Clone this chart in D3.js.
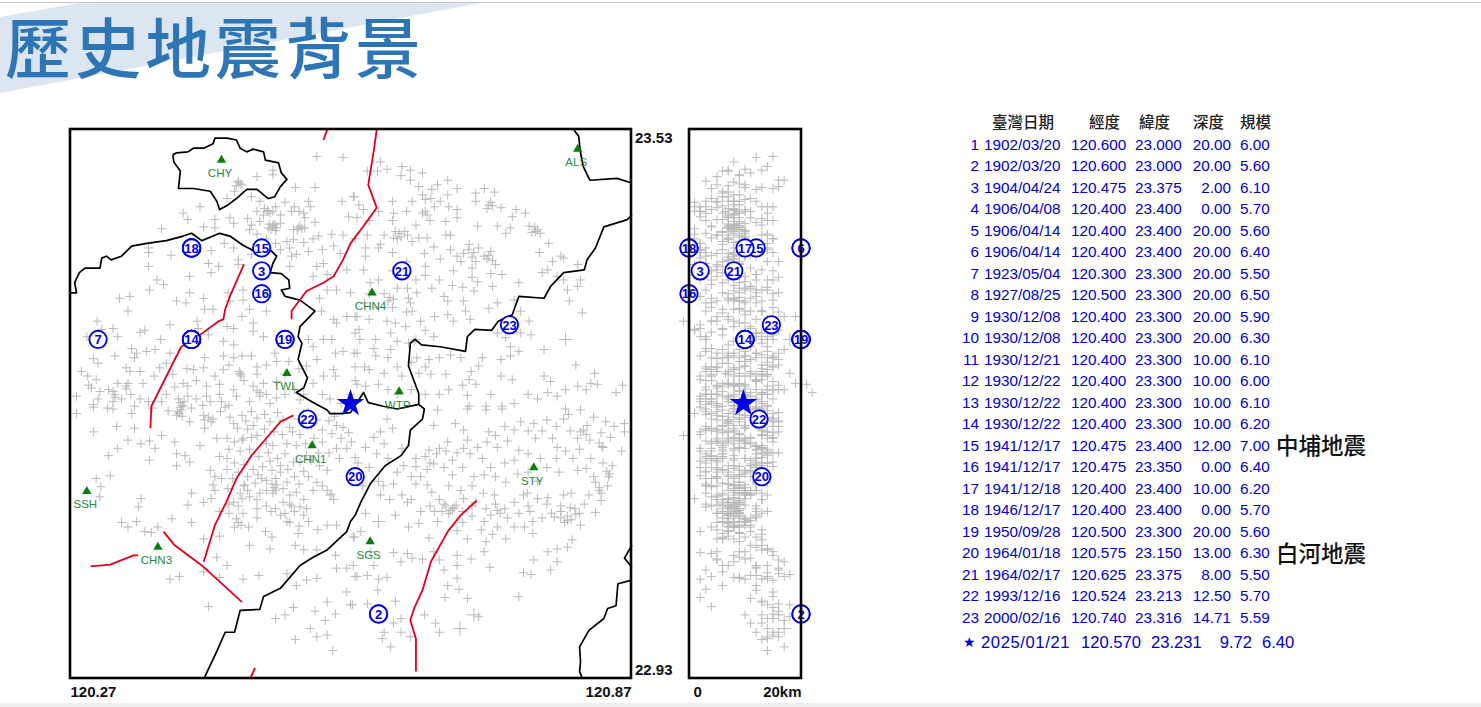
<!DOCTYPE html>
<html lang="zh-Hant">
<head>
<meta charset="utf-8">
<title>歷史地震背景</title>
<script src="https://cdn.jsdelivr.net/npm/d3@7"></script>
<style>
html,body{margin:0;padding:0;background:#fff;overflow:hidden}
svg{display:block}
text{font-family:"Liberation Sans",Arial,sans-serif}
.cjk{font-family:"Noto Sans CJK TC","Noto Sans CJK SC",sans-serif}
</style>
</head>
<body>
<svg id="chart" width="1481" height="707"></svg>
<script>
// ---- data: longitude = 120 + L/1000, latitude = 23 + M/1000, depth in km ----
const eventIds   = d3.range(1, 24);
const eventDates = ["1902/03/20","1902/03/20","1904/04/24","1906/04/08","1906/04/14","1906/04/14","1923/05/04","1927/08/25","1930/12/08","1930/12/08","1930/12/21","1930/12/22","1930/12/22","1930/12/22","1941/12/17","1941/12/17","1941/12/18","1946/12/17","1950/09/28","1964/01/18","1964/02/17","1993/12/16","2000/02/16"];
const eventLon   = [120.600,120.600,120.475,120.400,120.400,120.400,120.300,120.500,120.400,120.400,120.400,120.400,120.400,120.400,120.475,120.475,120.400,120.400,120.500,120.575,120.625,120.524,120.740];
const eventLat   = [23.000,23.000,23.375,23.400,23.400,23.400,23.300,23.300,23.300,23.300,23.300,23.300,23.300,23.300,23.400,23.350,23.400,23.400,23.300,23.150,23.375,23.213,23.316];
const eventDepth = [20,20,2,0,20,20,20,20,20,20,10,10,10,10,12,0,10,0,20,13,8,12.5,14.71];
const eventMag   = [6.00,5.60,6.10,5.70,5.60,6.40,5.50,6.50,5.90,6.30,6.10,6.00,6.10,6.20,7.00,6.40,6.20,5.70,5.60,6.30,5.50,5.70,5.59];
const mainShock  = {date:"2025/01/21", lon:120.570, lat:23.231, depth:9.72, mag:6.40};
const annotations = [{row:14, label:"中埔地震"},{row:19, label:"白河地震"}];
const tableHeads = [{t:"臺灣日期",x:992},{t:"經度",x:1089},{t:"緯度",x:1139},{t:"深度",x:1193},{t:"規模",x:1240}];
const stationNames = ["CHY","ALS","TWL","CHN4","WTP","CHN1","STY","SSH","CHN3","SGS"];
const stationL = [432,813,502,593,622,529,766,288,364,591];
const stationM = [496,508,263,351,243,184,160,134,73,79];

const borderChiayiCity = [[380,502],[384,504],[396,505],[402,509],[413,509],[423,514],[425,520],[438,520],[448,518],[452,509],[459,505],[466,508],[477,505],[479,496],[493,493],[496,482],[502,475],[495,467],[489,456],[482,454],[470,464],[459,464],[448,454],[439,447],[430,442],[427,451],[420,462],[402,465],[386,465],[388,484],[381,494],[380,502]];
const borderChiayiTainan = [[270,351],[277,351],[275,362],[280,373],[286,378],[302,378],[304,389],[309,391],[314,387],[325,391],[336,402],[352,405],[373,408],[391,413],[400,416],[411,408],[423,413],[430,416],[441,413],[455,403],[468,396],[484,398],[491,391],[487,383],[484,373],[496,372],[504,365],[505,356],[496,354],[500,347],[516,343],[532,331],[516,314],[514,303],[518,296],[514,278],[524,258],[520,247],[512,242],[530,231],[545,223],[548,219],[559,219],[570,220],[584,242],[589,231],[605,227],[620,224],[643,229],[649,224],[647,213],[634,201],[632,184],[624,173],[607,162],[591,142],[581,122],[575,108],[570,101],[566,90],[545,70],[530,62],[516,53],[495,28],[477,19],[473,5],[452,4],[446,-20],[436,-20],[427,-41],[414,-69]];
const borderEast = [[643,229],[643,241],[632,271],[634,296],[639,300],[646,294],[666,292],[693,287],[695,303],[703,311],[721,310],[728,320],[743,327],[750,347],[777,345],[784,358],[798,373],[820,376],[823,387],[832,400],[841,423],[866,431],[871,436]];
const borderAlishan = [[809,529],[814,522],[816,504],[819,489],[826,474],[855,476],[871,471]];
const borderNotch = [[871,75],[868,70],[863,61],[871,51]];
const borderSouthEast = [[871,37],[856,33],[854,9],[845,6],[841,-5],[825,-18],[815,-36],[816,-52],[815,-63],[818,-70]];
const borders = [borderChiayiCity,borderChiayiTainan,borderEast,borderAlishan,borderNotch,borderSouthEast];

const faultA = [[545,529],[541,518]];
const faultB = [[598,529],[595,507],[589,469],[598,444],[584,424],[570,405],[562,387],[552,369],[541,362],[523,353],[507,331],[507,322]];
const faultC = [[456,382],[441,347],[436,333],[434,322],[429,320],[409,305],[389,292],[380,274],[357,227],[356,203]];
const faultD = [[509,217],[495,210],[480,192],[464,173],[448,148],[437,122],[425,97],[413,57]];
const faultE = [[370,90],[382,75],[411,53],[454,13]];
const faultF = [[292,52],[313,54],[338,64],[343,64]];
const faultG = [[468,-59],[463,-70]];
const faultH = [[705,124],[688,108],[674,90],[656,57],[647,26],[638,6],[634,-7],[640,-27],[640,-50],[640,-63]];
const faults = [faultA,faultB,faultC,faultD,faultE,faultF,faultG,faultH];

// background seismicity: [L, M, depth km, optional magnitude]
const quakesNW = [[534,500,15],[562,499,12],[487,485,7],[487,480,9],[470,478,5],[450,473,3],[454,469,5],[446,462,6],[438,454,4],[511,466,10],[532,466,13],[464,456,7],[473,451,8],[482,440,9],[477,436,7],[487,440,10],[495,436,8],[507,440,11],[525,451,12],[527,445,13],[561,451,9],[573,456,6],[579,447,8],[568,434,7],[577,433,9],[409,445,2],[391,438,3],[396,431,5],[368,421,1],[425,431,6],[441,433,8],[445,427,9],[425,422,7],[413,423,4],[464,425,8],[473,429,9],[462,420,7.5],[487,425,8.5],[482,422,9],[491,422,8],[495,427,10],[521,433,11],[532,428,12],[514,422,7],[509,420,9],[521,422,8],[536,413,10],[562,414,14],[502,407,6],[505,400,9],[509,409,7],[520,406,8],[525,396,10],[552,402,12],[559,394,5],[421,397,2],[354,400,1],[354,395,3],[378,392,4],[354,380,2],[418,383,3],[429,380,5],[421,373,6],[450,387,7],[450,382,9],[464,393,8],[507,391,10],[512,393,11],[505,380,6],[534,380,8],[541,383,9],[530,369,10],[545,371,12],[566,376,13],[363,365,2],[370,360,4],[355,354,3],[398,369,5],[334,347,2],[323,345,4],[332,331,3],[398,351,6],[413,345,7],[384,342,5],[394,340,4],[423,333,8],[414,333,6],[439,351,9],[455,354,10],[455,343,7],[441,342,8],[545,354,12],[555,354,14],[570,351,16],[537,345,11],[539,331,13],[462,333,9],[480,331,10],[454,325,7],[377,316,2],[406,320,4],[407,312,6],[552,322,12],[555,318,15],[566,325,17],[577,325,19],[575,307,15],[299,320,-1],[304,311,1],[316,312,2],[321,303,3],[288,303,2],[345,308,4],[350,310,1],[367,300,3],[418,305,6],[434,298,8],[445,294,7],[466,318,9],[466,309,10],[477,303,12],[438,314,8],[445,312,11],[336,290,4],[341,285,5],[352,287,3],[361,289,6],[339,280,7],[318,282,2],[295,279,5],[300,274,6],[377,285,8],[373,274,7],[366,269,9],[525,300,13],[541,300,15],[550,300,11],[530,292,14],[554,285,12],[562,287,10],[577,285,16],[534,278,11],[434,282,7],[445,280,9],[454,282,8],[464,282,10],[434,267,8],[489,285,12],[491,276,10],[504,276,9],[414,280,6],[413,269,5],[402,267,4],[282,265,3],[289,260,4],[298,256,2],[293,247,5],[302,243,6],[311,245,3],[321,252,7],[330,269,8],[334,265,5],[330,249,9],[348,252,6],[552,267,14],[541,260,11],[554,260,13],[523,271,10],[452,262,7],[430,251,8],[416,249,6],[391,252,9],[396,249,5],[466,249,10],[473,242,11],[477,252,7],[491,254,12],[530,252,9],[277,238,2],[295,229,3],[318,240,5],[316,232,4],[339,227,6],[354,232,7],[388,231,8],[391,227,9],[373,240,10],[396,238,11],[416,238,6],[430,240,8],[448,238,7],[462,232,9],[491,236,10],[516,234,12],
[487,423,9],[489,426,8],[485,420,9.5],[483,426,7],[490,419,10],[516,424,8],[513,420,9],[518,421,7.5],[481,441,8],[484,438,9],[478,443,8],[450,472,8],[452,470,9],[448,468,7],[452,263,6.5],[453,260,8],[451,265,7],[390,228,8],[392,232,9],[388,226,10],[386,235,7],[473,238,8],[470,244,9],[330,246,10],[332,252,8],[318,237,7],[316,243,9]];
const quakesNE = [[602,494,8],[609,486,10],[588,484,6],[599,484,7],[625,489,14],[634,485,13],[647,482,11],[624,479,9],[634,474,17],[643,467,16],[647,458,8],[657,464,12],[663,469,10],[674,474,16],[684,465,15],[674,458,9],[656,454,11],[574,456,6],[584,442,4],[615,451,7],[636,451,5],[650,453,10],[666,451,8],[616,438,6],[647,438,9],[684,442,8],[684,433,7],[672,429,8],[704,460,6],[713,465,4],[724,461,7],[704,451,3],[718,447,9],[731,444,5],[747,442,10],[757,438,8],[743,434,2],[706,424,9],[727,424,7],[741,422,8],[736,416,10],[761,424,4],[768,418,6],[773,416,3],[588,414,5],[606,414,7],[618,418,8],[631,414,9],[643,411,10],[652,411,7],[616,411,4],[602,404,6],[586,400,3],[586,391,8],[636,407,9],[649,394,11],[659,401,12],[666,388,8],[677,398,10],[672,414,5],[677,414,13],[697,404,9],[707,400,8],[691,394,7],[684,391,10],[688,385,6],[713,391,12],[704,385,9],[725,382,5],[700,378,11],[782,405,14],[772,395,15],[786,385,16],[795,391,3],[798,389,2],[813,382,1],[775,373,7],[781,376,5],[791,369,8],[798,365,12],[816,365,14],[813,358,11],[802,354,13],[804,342,9],[818,329,6],[584,376,8],[591,362,6],[620,356,9],[631,356,10],[641,351,12],[640,365,7],[657,356,11],[632,345,8],[636,331,13],[634,340,10],[670,347,12],[674,342,9],[679,359,8],[690,357,14],[706,363,10],[722,358,11],[702,353,8],[732,371,12],[750,362,9],[691,342,13],[674,327,10],[693,331,11],[698,322,14],[727,340,12],[718,334,9],[745,343,15],[752,331,13],[761,320,14],[763,305,15],[752,307,12],[736,302,10],[727,307,13],[741,292,11],[750,287,14],[741,282,15],[777,289,17],[800,300,18,4.6],[811,272,16],[575,325,5],[590,322,7],[609,320,8],[618,318,10],[629,314,11],[579,311,6],[597,300,9],[613,307,12],[620,298,10],[632,296,13],[574,285,7],[597,282,10],[613,289,9],[590,267,8],[606,263,11],[625,260,9],[577,251,7],[600,251,10],[586,249,8],[659,303,14],[677,283,13],[688,280,15],[638,298,10],[641,280,12],[654,278,11],[643,263,9],[656,262,13],[672,262,12],[711,280,14],[707,271,10],[699,265,11],[697,256,13],[704,251,9],[731,260,14],[743,256,12],[731,278,16],[777,260,10],[784,254,15],[781,242,13],[831,263,18],[827,252,19],[834,251,21],[813,249,14],[822,245,17],[861,250,16],[854,242,22],[695,239,10],[697,227,12],[715,227,8],[732,227,14],[791,238,11],
[622,416,8],[624,412,9],[620,410,7],[628,418,10],[718,392,9],[716,388,8],[720,396,10],[722,386,7],[650,440,6.5],[652,436,8],[720,450,5],[722,446,6],[716,443,7],[767,423,7],[770,420,8],[764,417,6],[612,346,9],[616,344,8],[610,342,10],[606,350,7],[700,390,7],[702,395,8],[696,398,6]];
const quakesSW = [[277,219,1],[295,226,2],[316,224,3],[336,219,4],[389,223,6],[384,217,5],[398,210,7],[414,203,8],[423,213,9],[441,215,10],[454,217,11],[464,221,8],[295,199,2],[320,205,3],[339,203,4],[368,195,-1],[332,190,5],[346,186,6],[355,189,3],[361,181,4],[382,188,7],[409,184,6],[321,181,2],[311,173,4],[355,168,5],[384,175,6],[393,173,8],[384,162,7],[398,166,5],[413,217,10],[427,192,9],[438,192,10],[455,192,7],[464,193,11],[430,172,6],[438,170,8],[454,190,9],[480,186,10],[487,184,12],[502,186,8],[420,157,6],[425,150,7],[423,141,8],[439,137,9],[425,135,7],[457,141,10],[471,152,9],[475,148,8],[486,157,11],[495,155,10],[491,141,9],[498,137,8],[509,166,12],[512,184,13],[523,173,14],[537,162,11],[555,206,12],[562,204,10],[550,197,9],[555,181,8],[566,181,13],[545,157,10],[550,131,11],[534,144,9],[512,133,8],[516,117,7],[498,122,9],[523,115,8],[487,132,10],[473,132,6],[400,132,3],[396,119,5],[413,122,6],[421,126,7],[445,122,8],[454,126,9],[470,115,6],[298,148,3],[313,151,2],[303,139,4],[302,128,5],[346,126,1],[343,117,3],[325,100,5],[332,95,7],[341,101,6],[379,104,7],[400,100,8],[350,90,2],[357,89,9],[364,95,4],[448,104,10],[446,95,9],[461,95,8],[462,75,13],[479,90,11],[486,84,12],[484,71,14],[502,101,7],[514,88,9],[525,101,10],[413,82,5],[430,85,7],[427,62,9],[438,53,6],[377,38,2],[387,41,4],[413,46,6],[430,40,8],[455,38,10],[472,42,12],[511,75,11],[520,70,13],[534,70,14],[554,64,15],[502,44,16],[512,31,12],[534,39,14],[523,37,15],[418,8,4],[490,-5,14],[500,-1,13],[509,7,15],[532,3,16],[545,13,13],[554,0,15],[543,-7,17],[527,-16,14],[534,-25,16],[545,-23,15],[511,-28,13],[551,-40,14],[555,50,16],[566,50,12],[573,53,14],[577,41,17],[566,24,15],[570,10,18],[545,97,8],[555,97,11],[573,84,10],
[418,215,8],[421,210,9],[414,212,7],[385,221,5],[387,219,7],[390,216,6],[456,140,9],[460,135,8],[452,132,10],[490,135,8],[488,138,9],[486,142,7],[548,130,8],[545,135,10],[552,125,6],[505,120,8],[507,118,7],[450,100,8],[453,97,9]];
const quakesSE = [[663,223,12],[695,224,9],[715,223,11],[732,224,8],[659,206,10],[682,208,7],[691,201,13],[718,199,8],[745,201,6],[738,189,9],[766,208,12],[768,192,14],[786,192,11],[791,182,9],[798,213,15],[816,223,13],[823,206,10],[813,192,8],[843,210,16],[863,208,12],[863,199,14],[848,193,15],[609,213,9],[615,203,10],[602,199,7],[595,193,8],[586,182,6],[606,186,11],[625,181,9],[654,179,12],[674,188,10],[665,181,13],[659,164,11],[627,162,8],[640,161,9],[695,190,7],[691,181,10],[679,168,8],[711,170,12],[727,182,9],[750,179,8],[745,168,11],[773,170,10],[713,152,9],[679,152,7],[702,150,11],[725,150,8],[736,144,9],[749,153,10],[793,155,7],[813,157,9],[822,159,8],[832,144,12],[836,135,10],[838,124,9],[847,153,14],[850,162,11],[840,182,13],[827,170,10],[616,142,7],[645,150,9],[652,141,8],[657,133,10],[602,130,11],[631,122,9],[586,110,8],[618,108,7],[600,101,10,4.6],[679,115,9],[668,112,8],[663,101,10],[684,91,7],[695,82,8],[691,126,9],[704,122,7],[724,130,10],[715,115,8],[727,113,9],[745,122,7],[759,132,11],[770,126,10],[781,127,8],[713,101,9],[727,95,8],[736,82,6],[715,79,9],[713,68,5],[765,101,7],[756,95,9],[765,88,6],[798,130,10],[806,132,9],[788,106,8],[802,102,11],[816,97,10],[807,81,13],[802,73,12],[791,71,14],[781,68,15],[791,57,17],[784,48,16],[832,111,9],[632,95,8],[643,99,7],[654,83,6],[659,68,9],[616,67,2],[631,66,4],[636,61,11],[647,60,5],[624,57,8],[574,84,6],[581,90,7],[591,68,10],[595,53,12],[575,41,14],[588,42,11],[600,38,13],[609,40,9],[684,64,8],[699,60,10],[665,59,5],[670,48,3],[684,53,7],[684,39,9],[674,31,6],[686,27,3],[671,18,2],[695,17,11],[719,51,12],[766,59,16],[755,45,14],[763,43,18],[750,19,15],[588,11,16],[618,14,13],[599,26,12],[624,-5,15],[616,-10,13],[606,-20,16],[604,-27,14],[613,-36,17],[624,-20,12],[634,-25,14],[649,-1,10],[661,-10,11],[665,-20,15],[687,-16,17,4.8],[702,-1,16,4.6],[707,-3,18],[572,10,14],
[681,116,8],[677,113,9],[683,119,10],[675,110,7],[672,118,8],[802,107,9],[806,103,10],[799,100,8],[811,109,7],[795,105,9],[836,138,10],[838,132,9],[846,150,12],[844,156,11],[822,196,9],[819,201,8],[826,190,10],[816,199,7],[836,187,11],[839,183,12],[800,224,8],[803,218,9]];
const quakesDenseCentral = [[431,221,3],[436,226,5],[445,208,13],[449,203,4],[458,211,14],[466,206,6],[470,214,15],[478,218,3],[484,210,7],[492,220,16],[498,212,5],[505,204,13],[514,213,4],[520,219,15],[528,206,8],[534,212,14],[540,201,3],[547,211,16],[553,216,6],[560,192,5],[568,198,15],[571,188,4],[575,171,13],[558,170,3],[547,176,14],[540,188,6],[531,192,15],[522,186,4],[516,196,13],[508,199,16],[497,196,2],[488,199,14],[478,202,5],[470,195,13],[460,202,3],[446,188,15],[440,180,6],[452,178,2],[462,180,14],[472,172,3],[482,176,16],[492,170,5],[500,175,12],[516,166,15],[528,168,4],[536,176,13],[520,156,3],[510,150,14],[503,158,6],[495,162,13],[484,167,2],[476,161,15],[466,158,5],[456,163,12],[446,165,3],[438,158,13],[432,148,5],[444,148,14],[450,155,3],[460,150,12],[468,143,6],[480,146,13],[490,148,4],[502,144,14],[515,142,12],[525,150,5],[530,135,11],[540,140,3],[520,125,13],[505,130,6],[480,135,12],[462,128,4],[450,118,12],[440,110,5],[470,105,11],[485,112,6],[495,108,12],[505,100,10],[515,96,7],[535,92,13],[430,112,7],[440,120,8],[455,110,9],[470,125,7],[480,118,8],[490,115,9],[500,110,7.5],[510,112,8.5],[520,108,7]];
const quakesDenseEast = [[640,170,12],[650,172,4],[662,175,14],[672,178,6],[684,176,15],[698,175,3],[706,182,13],[716,188,5],[725,195,14],[735,205,6],[752,210,15],[760,200,4],[775,200,13],[780,212,7],[790,205,16],[805,200,5],[830,215,14],[838,198,6],[852,205,15],[860,178,4],[840,165,13],[830,150,5],[825,130,14],[845,140,8],[820,120,6],[810,115,12],[795,118,4],[785,110,13],[775,105,6],[762,112,14],[750,110,5],[738,105,12],[725,120,3],[712,132,13],[700,140,5],[688,135,12],[675,140,4],[665,125,13],[655,118,6],[645,112,12],[635,125,5],[625,130,11],[612,125,6],[605,140,3],[690,100,6],[700,107,12],[710,92,5],[722,87,13],[730,110,6],[745,95,11],[755,130,5],[770,145,13],[760,155,5],[780,160,12],[790,170,6],[800,178,14],[808,170,4],[815,180,12],[760,175,6],[735,165,13],[720,160,4],[690,160,12],[670,160,5],[655,165,14],[640,142,3],[652,158,13],[635,150,5],[620,155,12],[610,170,6],[598,175,13],[590,160,2],[600,145,12],[583,140,4],[578,165,14],[660,112,8],[670,120,9],[690,112,7],[700,118,8],[720,108,9],[735,115,7.5],[760,118,8.5],[780,120,9],[795,112,7],[805,116,8],[815,110,9]];
const quakesDenseNorth = [[290,250,8],[300,235,3],[310,225,12],[325,235,4],[335,240,13],[345,235,2],[358,225,13],[368,232,4],[375,222,14],[382,248,3],[400,225,12],[405,235,4],[412,228,14],[420,232,2],[432,232,13],[440,228,5],[445,245,15],[456,255,3],[470,262,14],[480,240,4],[484,230,13],[500,240,5],[510,245,14],[520,240,4],[525,220,13],[540,240,3],[548,235,12],[560,230,5],[570,240,14],[575,255,4],[345,265,13],[360,260,2],[380,262,14],[395,268,3],[405,255,12],[425,260,4],[440,272,13],[470,270,3],[480,272,14],[500,262,4],[515,268,13],[610,245,14],[620,240,3],[635,245,12],[650,240,4],[665,240,13],[675,245,15],[690,250,5],[720,240,14],[745,230,4],[760,240,13],[770,235,15],[800,245,16],[620,270,4],[635,275,14],[650,270,15],[665,280,4],[610,280,15],[595,290,3],[580,300,14],[585,270,5],[575,270,15],[645,320,4],[660,325,15],[640,300,3],[650,310,16],[680,320,5],[600,335,15],[615,335,4],[630,330,16],[585,340,3],[590,350,15],[600,365,4],[615,375,15],[650,380,3],[665,365,15],[680,375,4],[700,368,16],[720,372,3],[600,400,14],[615,395,2],[630,385,14],[650,370,1],[500,450,1],[510,445,15],[515,440,2],[520,438,14],[490,445,3],[470,440,2],[460,432,13],[470,415,1],[480,410,15],[490,405,2],[495,398,14],[470,400,1],[445,400,13],[435,405,2],[530,410,15],[540,398,2],[550,415,14],[575,410,1],[590,430,14],[600,440,2],[615,430,15],[630,440,1],[640,425,13],[655,430,3],[660,445,14],[675,445,1]];
const quakes = quakesNW.concat(quakesNE, quakesSW, quakesSE, quakesDenseCentral, quakesDenseEast, quakesDenseNorth);

// ---- scales ----
const milliLon = L => 120 + L/1000, milliLat = M => 23 + M/1000;
const xMap = d3.scaleLinear().domain([120.27,120.87]).range([70,631]);
const yLat = d3.scaleLinear().domain([23.53,22.93]).range([129,678]);
const xDepth = d3.scaleLinear().domain([0,20]).range([689,801]);
const crossHalf = d3.scaleLinear().domain([3,5]).range([3.5,7.5]);
const yRow = d3.scaleLinear().domain([0,22]).range([144,617.5]);

const svg = d3.select("#chart");
const BLUE = "#0000e6";

// ---- page background and title ----
svg.append("path").attr("d","M0,17L80,3L480,3L0,93Z").attr("fill","#dce6f2");
svg.append("rect").attr("x",0).attr("y",2).attr("width",1481).attr("height",1).attr("fill","#c4c6cc");
svg.append("rect").attr("x",0).attr("y",703).attr("width",1481).attr("height",4).attr("fill","#eeeeee");
svg.append("text").attr("class","cjk").attr("x",5).attr("y",73)
  .attr("font-size",66).attr("font-weight",500).attr("letter-spacing",4).attr("fill","#2e75b6")
  .style("font-family",'"Noto Sans CJK TC"').text("歷史地震背景");

// ---- background crosses ----
const crossPath = h => `M${-h},0H${h}M0,${-h}V${h}`;
const mag = d => d[3] === undefined ? 3.5 : d[3];
function crosses(g, xf){
  g.selectAll("path").data(quakes).join("path")
    .attr("d", d => crossPath(crossHalf(mag(d))))
    .attr("transform", d => `translate(${xf(d)},${yLat(milliLat(d[1]))})`)
    .attr("fill","none").attr("stroke","#b9b9b9").attr("stroke-width",1);
}
crosses(svg.append("g"), d => xMap(milliLon(d[0])));
crosses(svg.append("g"), d => xDepth(d[2]));

// ---- borders and faults ----
const line = d3.line().x(d => xMap(milliLon(d[0]))).y(d => yLat(milliLat(d[1])));
svg.append("g").selectAll("path").data(borders).join("path").attr("d",line)
  .attr("fill","none").attr("stroke","#000").attr("stroke-width",1.7).attr("stroke-linejoin","round");
svg.append("g").selectAll("path").data(faults).join("path").attr("d",line)
  .attr("fill","none").attr("stroke","#e3001b").attr("stroke-width",1.8).attr("stroke-linejoin","round");

// ---- stations ----
const st = svg.append("g").selectAll("g").data(stationNames).join("g")
  .attr("transform",(d,i)=>`translate(${xMap(milliLon(stationL[i]))},${yLat(milliLat(stationM[i]))})`);
st.append("path").attr("d",d3.symbol(d3.symbolTriangle,38)).attr("fill","#0a7d0a");
st.append("text").attr("x",-1.5).attr("y",17).attr("text-anchor","middle")
  .attr("font-size",11.5).attr("fill","#248a3c").text(d=>d);

// ---- historical events ----
function events(gx){
  const g = svg.append("g").selectAll("g").data(eventIds).join("g")
    .attr("transform",(d,i)=>`translate(${gx(i)},${yLat(eventLat[i])})`);
  g.append("circle").attr("r",8.7).attr("fill","#fff").attr("stroke",BLUE).attr("stroke-width",1.9);
  g.append("text").attr("text-anchor","middle").attr("y",4.7).attr("font-size",13).attr("font-weight",700)
    .attr("fill",BLUE).text(d=>d);
}
events(i => xMap(eventLon[i]));
events(i => xDepth(eventDepth[i]));

// ---- main shock ----
const starPath = d3.symbol(d3.symbolStar,235);
svg.append("path").attr("d",starPath).attr("fill",BLUE)
  .attr("transform",`translate(${xMap(mainShock.lon)},${yLat(mainShock.lat)+1})`);
svg.append("path").attr("d",starPath).attr("fill",BLUE)
  .attr("transform",`translate(${xDepth(mainShock.depth)},${yLat(mainShock.lat)+1})`);

// ---- frames and axes ----
[[70,129,561,549],[689,129,112,549]].forEach(f=>{
  svg.append("rect").attr("x",f[0]).attr("y",f[1]).attr("width",f[2]).attr("height",f[3])
    .attr("fill","none").attr("stroke","#000").attr("stroke-width",2.6);
});
function styleAxis(g){
  g.select(".domain").remove();
  g.selectAll("line").remove();
  g.selectAll("text").attr("font-size",15).attr("font-weight",700).attr("fill","#111")
    .style("font-family",'"Liberation Sans",Arial,sans-serif');
}
const axLon = svg.append("g").attr("transform","translate(0,686)")
  .call(d3.axisBottom(xMap).tickValues([120.27,120.87]).tickFormat(d3.format(".2f")).tickSize(0).tickPadding(0));
styleAxis(axLon);
axLon.selectAll("text").attr("dy","0.71em").attr("y",0).attr("text-anchor",(d,i)=>i?"end":"start");
const axLat = svg.append("g").attr("transform","translate(635,0)")
  .call(d3.axisRight(yLat).tickValues([23.53,22.93]).tickFormat(d3.format(".2f")).tickSize(0).tickPadding(0));
styleAxis(axLat);
axLat.selectAll("text").attr("x",0).attr("dy",(d,i)=>i?"-3.4":"13");
const axDepth = svg.append("g").attr("transform","translate(0,686)")
  .call(d3.axisBottom(xDepth).tickValues([0,20]).tickFormat(d=>d?d+"km":"0").tickSize(0).tickPadding(0));
styleAxis(axDepth);
axDepth.selectAll("text").attr("dy","0.71em").attr("y",0).attr("text-anchor",(d,i)=>i?"end":"start")
  .attr("x",(d,i)=>i?0:4);

// ---- table ----
const head = svg.append("g");
head.selectAll("text").data(tableHeads).join("text").attr("class","cjk")
  .attr("x",d=>d.x).attr("y",128).attr("font-size",15.5).attr("font-weight",500).attr("fill","#222")
  .style("font-family",'"Noto Sans CJK TC"').text(d=>d.t);
const rows = svg.append("g").attr("font-size",15.3).attr("fill","#0000d0")
  .selectAll("g").data(eventIds).join("g")
  .attr("transform",(d,i)=>`translate(0,${yRow(i)+5.5})`);
rows.append("text").attr("x",979).attr("text-anchor","end").text(d=>d);
rows.append("text").attr("x",984).text((d,i)=>eventDates[i]);
rows.append("text").attr("x",1071).text((d,i)=>eventLon[i].toFixed(3));
rows.append("text").attr("x",1135).text((d,i)=>eventLat[i].toFixed(3));
rows.append("text").attr("x",1231).attr("text-anchor","end").text((d,i)=>eventDepth[i].toFixed(2));
rows.append("text").attr("x",1240).text((d,i)=>eventMag[i].toFixed(2));

const ms = svg.append("g").attr("font-size",16.6).attr("fill","#0000d0").attr("transform","translate(0,648)");
ms.append("text").attr("x",963).attr("font-size",14).attr("y",-1).text("★").style("font-family",'"DejaVu Sans"');
ms.append("text").attr("x",981).attr("letter-spacing",0.6).text(mainShock.date);
ms.append("text").attr("x",1081).text(mainShock.lon.toFixed(3));
ms.append("text").attr("x",1151).text(mainShock.lat.toFixed(3));
ms.append("text").attr("x",1252).attr("text-anchor","end").text(mainShock.depth.toFixed(2));
ms.append("text").attr("x",1262).text(mainShock.mag.toFixed(2));

svg.append("g").selectAll("text").data(annotations).join("text").attr("class","cjk")
  .attr("x",1276).attr("y",d=>yRow(d.row)+9).attr("font-size",22.5).attr("font-weight",500).attr("fill","#111")
  .style("font-family",'"Noto Sans CJK TC"').text(d=>d.label);
</script>
</body>
</html>
